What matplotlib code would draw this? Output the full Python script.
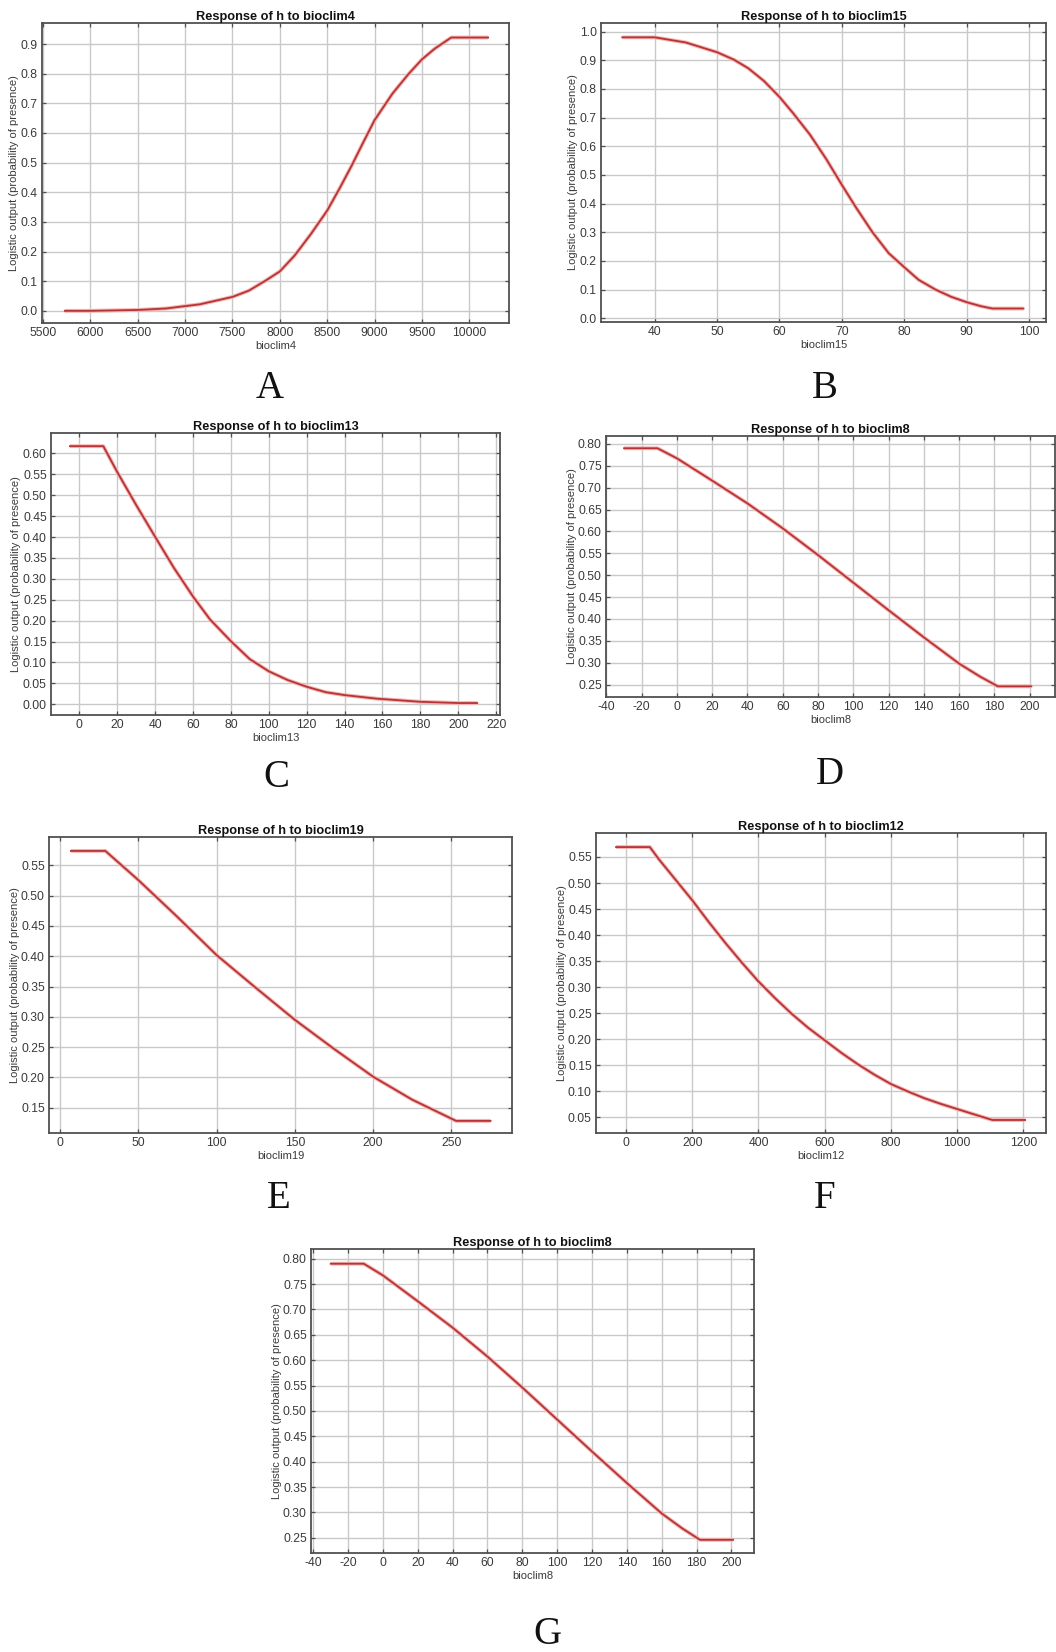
import numpy as np
import matplotlib
matplotlib.use("Agg")
import matplotlib.pyplot as plt
from matplotlib.ticker import FormatStrFormatter

plt.rcParams['font.family'] = ['Liberation Sans', 'DejaVu Sans']
plt.rcParams['axes.unicode_minus'] = False

# ---------------- data ----------------
bio4_x = [5730, 6000, 6500, 6800, 7000, 7155, 7500, 7672, 7845, 8000, 8155, 8328, 8500, 8638, 8759, 8879,
          9000, 9190, 9362, 9500, 9638, 9810, 10200]
bio4_y = [0.0, 0.0, 0.003, 0.008, 0.016, 0.022, 0.047, 0.068, 0.101, 0.133, 0.186, 0.259, 0.338, 0.417, 0.49, 0.567,
          0.643, 0.733, 0.80, 0.848, 0.885, 0.922, 0.922]

bio15_x = [34.8, 40, 45, 50, 52.7, 55, 57.5, 60, 62.2, 64.9, 67.5, 70, 72.3, 74.9, 77.5, 80, 82.3, 85, 87.5, 90,
           92.3, 94.1, 99.1]
bio15_y = [0.98, 0.98, 0.962, 0.928, 0.902, 0.872, 0.828, 0.772, 0.715, 0.64, 0.555, 0.465, 0.385, 0.30, 0.227,
           0.178, 0.134, 0.10, 0.075, 0.056, 0.042, 0.034, 0.034]

bio13_x = [-4.9, 12.7, 20, 30, 40, 50, 60, 69, 80, 90, 100, 110, 120, 130, 140, 157, 180, 200, 210]
bio13_y = [0.6175, 0.6175, 0.556, 0.477, 0.401, 0.326, 0.258, 0.203, 0.151, 0.108, 0.079, 0.058, 0.042, 0.029,
           0.022, 0.0135, 0.006, 0.003, 0.003]

bio8_x = [-30, -11, 0, 20, 40, 60, 80, 100, 120, 140, 160, 172, 182, 201]
bio8_y = [0.79, 0.79, 0.767, 0.716, 0.664, 0.607, 0.546, 0.483, 0.42, 0.358, 0.298, 0.268, 0.246, 0.246]

bio19_x = [7, 29, 50, 75, 100, 125, 150, 175, 200, 225, 253, 275]
bio19_y = [0.574, 0.574, 0.526, 0.465, 0.402, 0.348, 0.295, 0.247, 0.201, 0.163, 0.128, 0.128]

bio12_x = [-30, 72, 100, 150, 200, 250, 300, 350, 400, 450, 500, 550, 600, 650, 700, 750, 800, 850, 900, 950,
           1000, 1050, 1106, 1205]
bio12_y = [0.569, 0.569, 0.545, 0.506, 0.467, 0.425, 0.385, 0.347, 0.311, 0.279, 0.249, 0.222, 0.198, 0.174,
           0.152, 0.132, 0.114, 0.10, 0.087, 0.076, 0.066, 0.056, 0.045, 0.045]

panel_letters = ["A", "B", "C", "D", "E", "F", "G"]
variables = ["bioclim4", "bioclim15", "bioclim13", "bioclim8", "bioclim19", "bioclim12", "bioclim8"]
xs = [bio4_x, bio15_x, bio13_x, bio8_x, bio19_x, bio12_x, bio8_x]
ys = [bio4_y, bio15_y, bio13_y, bio8_y, bio19_y, bio12_y, bio8_y]

# ---------------- layout ----------------
W, H = 1056, 1652
fig = plt.figure(figsize=(W / 100, H / 100), dpi=100)
fig.patch.set_facecolor("white")

# (left, top, right, bottom) in pixels
rects = [
    (42, 23, 509, 323),
    (601, 23, 1046, 322),
    (51, 433, 500, 715),
    (606, 436, 1055, 697),
    (49, 837, 512, 1133),
    (596, 833, 1046, 1133),
    (311, 1249, 754, 1553),
]
xlims = [(5489, 10420), (31.4, 102.7), (-14.9, 222), (-40.2, 214.4), (-7, 288.7), (-90.5, 1268), (-41.3, 213)]
ylims = [(-0.041, 0.971), (-0.013, 1.03), (-0.0256, 0.649), (0.2216, 0.818), (0.108, 0.597), (0.020, 0.596), (0.220, 0.819)]
xticks = [np.arange(5500, 10001, 500), np.arange(40, 101, 10), np.arange(0, 221, 20),
          np.arange(-40, 201, 20), np.arange(0, 251, 50), np.arange(0, 1201, 200), np.arange(-40, 201, 20)]
yticks = [np.arange(0, 0.91, 0.1), np.arange(0, 1.01, 0.1), np.arange(0, 0.601, 0.05),
          np.arange(0.25, 0.801, 0.05), np.arange(0.15, 0.551, 0.05), np.arange(0.05, 0.551, 0.05),
          np.arange(0.25, 0.801, 0.05)]
yfmt = ["%.1f", "%.1f", "%.2f", "%.2f", "%.2f", "%.2f", "%.2f"]
letter_pos = [(270, 388), (825, 388), (276, 778), (830, 775), (279, 1199), (825, 1199), (547, 1634)]

for i in range(7):
    l, t, r, b = rects[i]
    ax = fig.add_axes([l / W, 1 - b / H, (r - l) / W, (b - t) / H])
    ax.set_facecolor("white")
    ax.set_xlim(*xlims[i])
    ax.set_ylim(*ylims[i])
    ax.set_xticks(xticks[i])
    ax.set_yticks(yticks[i])
    ax.yaxis.set_major_formatter(FormatStrFormatter(yfmt[i]))
    ax.grid(True, color="#c9c9c9", linewidth=1.0)
    ax.set_axisbelow(True)
    for s in ax.spines.values():
        s.set_color("#505050")
        s.set_linewidth(1.3)
    ax.tick_params(direction="in", length=3, width=0.9, color="#505050",
                   labelsize=8.7, labelcolor="#3a3a3a", top=True, right=True, pad=3)
    ax.plot(xs[i], ys[i], color="#f4b4b4", linewidth=2.8, solid_capstyle="butt", zorder=3)
    ax.plot(xs[i], ys[i], color="#b83434", linewidth=1.3, zorder=4)
    ax.set_title("Response of h to " + variables[i], fontsize=9.2, fontweight="bold",
                 color="#111111", pad=2)
    ax.set_xlabel(variables[i], fontsize=8, color="#3a3a3a", labelpad=1)
    ax.set_ylabel("Logistic output (probability of presence)", fontsize=8, color="#3a3a3a", labelpad=1)
    lx, ly = letter_pos[i]
    fig.text(lx / W, 1 - ly / H, panel_letters[i], ha="center", va="center",
             fontsize=28, family="Liberation Serif", color="#111111")

fig.savefig("out.png", dpi=100, facecolor="white")
